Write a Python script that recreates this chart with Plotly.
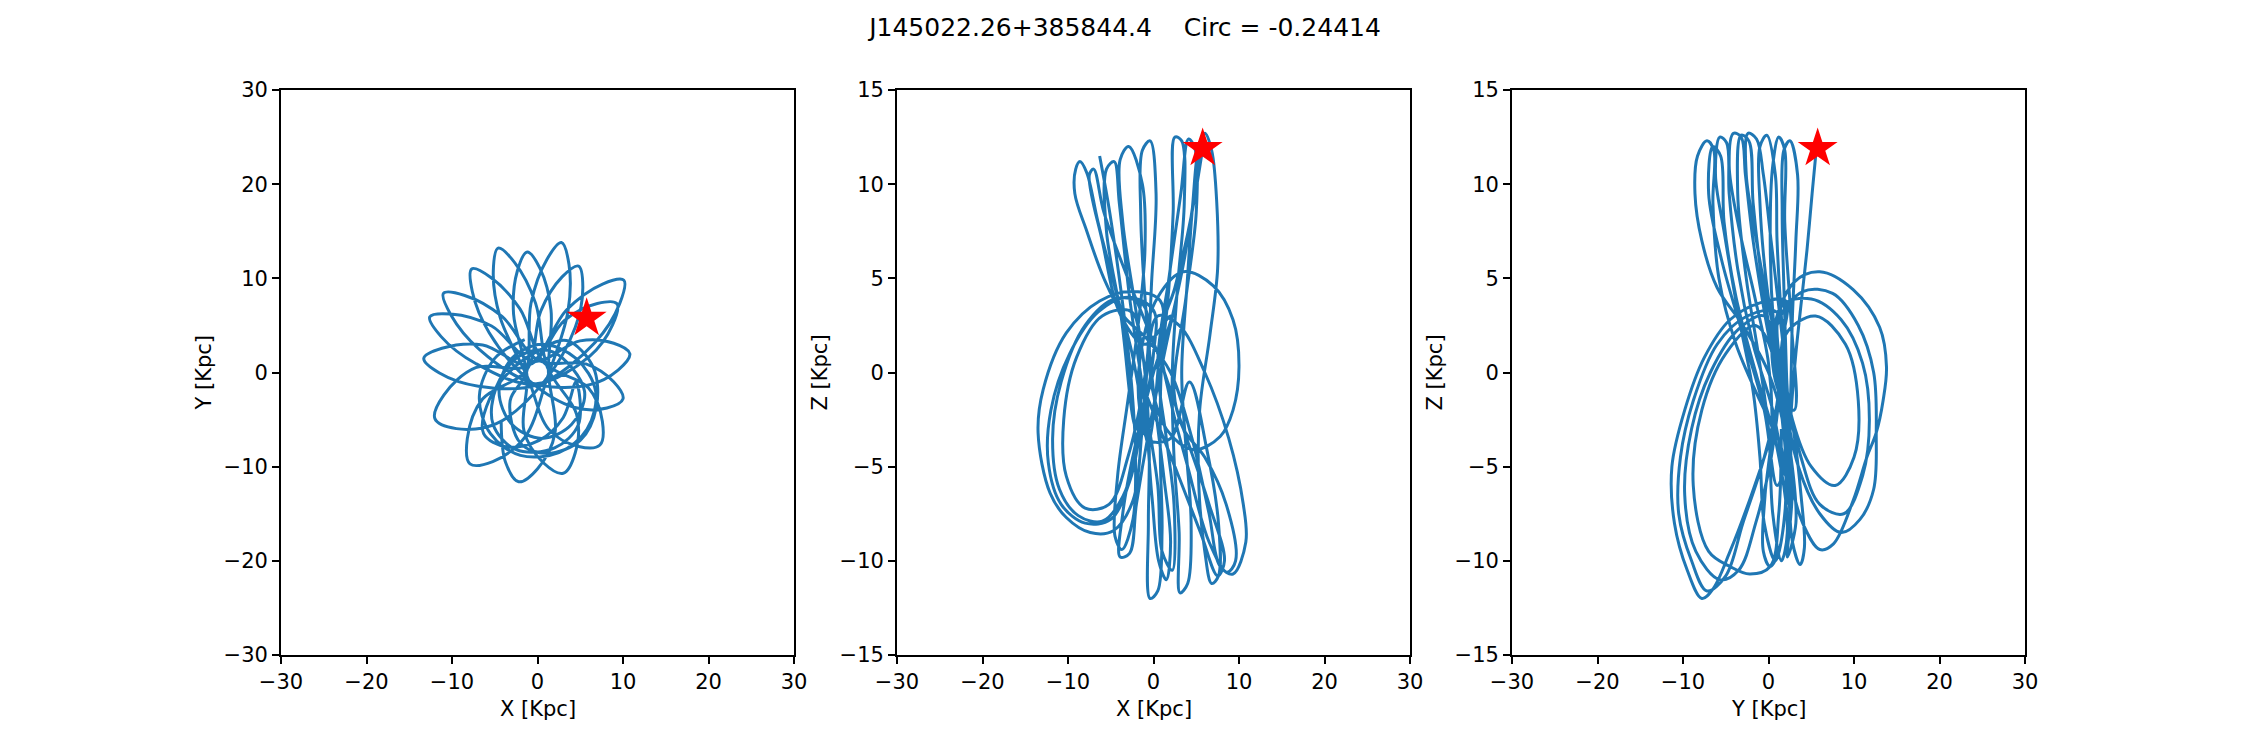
import plotly.graph_objects as go

# ---------------- data (kpc) ----------------
title_text = "J145022.26+385844.4\u00a0\u00a0\u00a0\u00a0Circ = -0.24414"

# X-Y projection of the orbit (rosette petals, traced)
xy_orbit = [
    (-4.25, -5.20), (-3.75, -9.50), (-2.2, -11.6), (0.01, -10.22), (2.05, -6.40), (1.28, 0.00),
    (1.58, 6.63), (0.29, 11.05), (-1.2, 12.8), (-2.35, 10.81), (-2.80, 6.21), (-1.23, -0.34),
    (-1.58, -6.21), (0.72, -9.61), (3.0, -10.7), (4.40, -8.57), (4.58, -4.47), (1.15, 0.56),
    (-0.22, 7.34), (-2.67, 11.67), (-4.6, 13.2), (-5.17, 10.79), (-4.38, 5.88), (-1.11, -0.62),
    (1.33, -6.04), (4.81, -7.85), (7.3, -7.7), (7.59, -5.21), (5.97, -1.64), (0.76, 1.03),
    (-2.05, 6.75), (-5.46, 10.09), (-7.7, 11.0), (-7.62, 8.57), (-5.65, 4.23), (-0.90, -0.91),
    (4.37, -3.71), (8.12, -3.77), (10.0, -2.8), (8.90, -0.99), (5.65, 0.91), (0.12, 1.27),
    (-4.15, 5.95), (-8.51, 8.18), (-11.0, 8.4), (-10.11, 6.08), (-6.81, 2.45), (-0.59, -1.13),
    (5.85, -1.36), (9.46, 0.29), (10.8, 2.0), (8.92, 3.11), (4.97, 3.36), (-0.45, 1.19),
    (-5.37, 4.94), (-10.15, 6.21), (-12.6, 5.9), (-11.27, 3.81), (-7.23, 0.96), (-0.33, -1.23),
    (6.12, 1.75), (8.78, 5.06), (9.3, 7.3), (7.00, 7.32), (3.16, 5.53), (-0.95, 0.85),
    (-6.41, 2.93), (-11.17, 2.57), (-13.3, 1.5), (-11.47, -0.05), (-6.91, -1.45), (0.08, -1.28),
    (6.73, 3.19), (9.61, 7.31), (10.1, 9.8), (7.61, 9.39), (3.39, 6.63), (-1.04, 0.74),
    (-7.23, 0.51), (-10.96, -2.40), (-12.0, -4.9), (-9.50, -5.96), (-4.81, -5.43), (0.68, -1.08),
    (4.42, 4.80), (5.30, 9.11), (4.8, 11.3), (2.88, 10.15), (0.38, 6.52), (-1.25, 0.29),
    (-6.43, -2.82), (-8.21, -7.02), (-7.9, -9.7), (-5.23, -9.46), (-1.47, -6.86), (1.12, -0.62),
    (3.56, 6.47), (3.68, 11.49), (2.8, 13.8), (1.10, 12.01), (-0.76, 7.35), (-1.28, 0.03),
    (-3.2, -3.0), (-2.0, -7.5), (1.1, -8.6), (5.0, -7.2), (6.9, -3.6), (6.5, 0.6), (3.4, 3.4),
    (0.3, 2.4), (-2.8, 0.5), (-5.6, -2.8), (-6.3, -6.5), (-3.6, -7.9), (0.2, -7.2), (3.0, -4.8),
    (4.5, -1.0), (4.8, -5.5), (2.0, -8.0), (-2.5, -8.2), (-5.2, -5.5), (-4.8, -1.5), (-2.0, 1.8),
    (1.8, 2.2), (5.5, -2.0), (4.0, -5.5), (0.5, -7.0), (-3.0, -5.5), (-4.5, -2.0), (-3.0, 1.5),
    (0.5, 3.0), (4.5, 1.5), (6.8, -2.0), (5.8, -6.0), (2.5, -8.5), (-2.0, -8.8), (-5.5, -6.5),
    (-6.8, -2.5), (-5.0, 1.5), (-1.5, 3.5),
]

# X-Z projection of the orbit (traced)
xz_orbit = [
    (-6.3, 11.5), (-5.3, 9.0), (-4.3, 6.0), (-3.3, 2.5), (-2.5, -1.0), (-2.1, -4.5), (-2.4, -7.8),
    (-3.7, -9.4), (-4.5, -8.7), (-4.2, -5.5), (-3.0, -1.5), (-1.8, 2.5), (-1.0, 6.5), (-1.3, 10.0),
    (-2.9, 12.0), (-3.9, 11.3), (-3.6, 8.0), (-2.3, 4.0), (-1.0, 0.0), (-0.5, -4.0), (-0.6, -8.0),
    (-0.4, -12.0), (0.5, -11.6), (1.0, -8.5), (0.8, -4.5), (0.9, 0.0), (1.8, 4.5), (2.3, 8.5),
    (2.5, 12.5), (3.3, 12.3), (3.6, 9.0), (2.8, 4.5), (2.2, 0.0), (2.4, -4.5), (3.0, -8.5),
    (3.1, -11.7), (4.0, -11.2), (4.4, -8.0), (3.8, -4.0), (3.3, 0.0), (3.9, 4.5), (4.6, 9.0),
    (5.3, 12.0), (6.0, 12.7), (6.8, 11.8), (7.4, 9.0), (7.5, 5.5), (6.6, 2.0), (5.4, -2.0),
    (5.3, -6.0), (6.0, -9.5), (6.8, -11.2), (7.6, -10.8), (7.6, -8.0), (6.2, -4.0), (4.2, -0.5),
    (2.0, -3.5), (-0.5, -3.6), (-1.6, -2.0), (-1.5, 1.0), (0.5, 4.0), (3.5, 5.35), (7.0, 4.6),
    (9.3, 2.8), (10.0, 0.3), (9.3, -2.0), (7.8, -3.4), (4.7, -4.1), (1.5, -3.0), (-0.5, 0.5),
    (0.5, 3.0), (3.0, 2.5), (6.0, 0.0), (8.8, -3.5), (10.5, -7.0), (10.8, -9.0), (9.3, -10.7),
    (7.8, -10.3), (6.5, -7.5), (4.5, -3.5), (2.0, 0.0), (-0.8, 1.8),
    (-3.5, 3.0), (-5.8, 5.0), (-7.8, 7.5), (-9.2, 9.5), (-9.1, 10.8), (-8.6, 11.2), (-7.8, 10.6),
    (-6.5, 8.0), (-4.5, 4.5), (-2.5, 1.0), (-1.5, -1.5),
    (-0.6, -3.8), (0.5, 0.0), (0.8, 3.8), (-2.4, 4.3), (-6.3, 3.8), (-10.2, 2.1), (-12.9, -0.9),
    (-13.5, -3.2), (-12.1, -6.4), (-10.2, -7.7), (-7.4, -8.5), (-4.7, -8.4), (-2.4, -6.8),
    (-1.2, -2.5), (0.0, 1.0), (0.0, 3.3), (-3.0, 4.0), (-6.5, 3.2), (-9.8, 1.0), (-12.0, -2.0),
    (-12.3, -4.8), (-10.8, -7.0), (-8.0, -8.0), (-5.0, -7.8), (-2.8, -5.8),
    (-1.8, -3.8), (-0.8, 0.0), (-1.2, 3.6), (-4.5, 3.9), (-8.0, 2.5), (-10.8, -0.5), (-11.8, -3.5),
    (-11.0, -6.2), (-8.8, -7.6), (-6.0, -7.9), (-3.6, -6.6),
    (-1.6, -3.0), (-1.6, -0.5), (-2.5, 3.2), (-6.0, 3.0), (-9.0, 0.8), (-10.5, -2.5), (-10.2, -5.5),
    (-8.0, -7.2), (-5.2, -7.0), (-3.0, -4.5),
    (-0.8, 0.5), (-0.2, 5.0), (0.3, 9.5), (-0.4, 12.3), (-1.3, 11.8), (-1.5, 8.5), (-1.0, 4.0),
    (0.0, -1.0), (1.2, -5.5), (2.0, -9.0), (1.5, -11.0), (0.6, -10.0), (-0.2, -6.5), (-1.2, -2.0),
    (-2.0, -3.0), (-3.8, 3.0), (-5.5, 7.5), (-5.5, 10.8), (-4.6, 11.2), (-4.0, 9.0), (-2.8, 4.0),
    (-1.2, -1.0), (0.5, -6.0), (1.0, -9.5), (2.2, -10.5), (2.4, -7.0), (1.5, -3.5), (0.5, 0.5),
    (1.8, 5.0), (3.2, 9.5), (4.1, 12.4), (4.9, 11.8), (5.0, 8.5), (3.8, 4.0), (2.4, -1.0),
    (3.5, -3.0), (6.0, -4.5), (8.5, -7.0), (9.6, -10.0), (8.6, -10.6), (6.5, -9.0), (4.0, -5.0),
    (2.0, -1.5), (0.8, 2.0),
    (2.5, 4.5), (4.5, 8.5), (5.9, 12.4), (5.3, 11.0), (3.6, 6.0), (1.5, 1.5), (-0.5, -3.0),
    (-2.0, -7.0), (-2.8, -9.6), (-3.9, -9.8), (-3.6, -7.5), (-2.2, -4.0), (0.0, 0.0), (2.0, 3.0),
    (-1.0, 1.5), (-3.8, 3.0), (-6.0, 7.0), (-7.5, 10.5), (-7.0, 10.8), (-5.8, 8.5), (-3.0, 5.0),
    (0.5, 1.0), (3.5, -3.0), (6.5, -7.0), (8.3, -10.0), (7.5, -10.8), (5.5, -8.5), (2.5, -5.0),
    (-1.0, -1.0),
]

# Y-Z projection of the orbit (traced)
yz_orbit = [
    (5.6, 11.9), (5.1, 9.5), (4.5, 6.5), (3.9, 4.0), (3.2, 1.0), (2.6, -2.5), (2.4, -6.0),
    (2.8, -9.0), (3.7, -10.2), (4.2, -9.3), (3.8, -6.5), (2.9, -3.0), (1.5, 0.5), (-0.2, 4.0),
    (-1.6, 7.5), (-2.6, 10.5), (-2.4, 12.7), (-1.4, 12.4), (-0.6, 10.5), (0.3, 7.0), (1.2, 3.5),
    (2.0, 0.0), (2.2, -3.5), (2.0, -7.0), (1.2, -9.5), (0.2, -10.3), (-0.6, -9.5), (-0.4, -6.5),
    (0.4, -3.0), (0.0, 0.5), (-1.6, 4.0), (-3.6, 8.0), (-4.6, 11.0), (-4.1, 12.7), (-3.2, 12.5),
    (-2.7, 10.5), (-1.8, 7.0), (-0.4, 3.0), (1.2, -1.0), (2.0, -4.5), (1.8, -8.0), (0.8, -10.0),
    (-0.5, -8.0), (-1.0, -4.5), (-1.8, -1.0), (-3.5, 3.0), (-5.2, 7.5), (-6.2, 10.5), (-5.7, 12.5),
    (-4.9, 12.2), (-4.6, 9.5), (-3.6, 5.5), (-1.8, 1.5), (0.5, -2.0), (2.0, -5.5),
    (1.8, -3.0), (0.0, 0.0), (-3.0, 2.5), (-6.0, 4.5), (-7.8, 7.0), (-8.6, 9.5), (-8.3, 11.5),
    (-7.2, 12.3), (-6.4, 11.8), (-6.5, 9.0), (-5.8, 5.0), (-3.8, 1.5), (-1.0, -1.5), (1.5, -4.0),
    (2.4, -7.0), (2.6, -4.0), (2.2, -1.0), (1.5, 3.0), (1.0, 7.0), (0.8, 10.5), (-0.2, 12.6),
    (-1.0, 12.0), (-1.0, 9.0), (-0.3, 5.0), (1.0, 1.0), (2.1, -2.0), (2.2, -5.0),
    (2.6, -1.0), (2.8, 3.0), (3.2, 7.0), (3.4, 10.5), (2.5, 12.3), (1.8, 11.8), (1.6, 8.5),
    (1.8, 4.5), (2.1, 0.0), (2.3, -4.0), (1.0, -6.0),
    (-0.5, -2.0), (-3.0, 2.0), (-5.5, 6.0), (-7.0, 9.5), (-6.5, 12.0), (-5.6, 11.5), (-5.2, 8.0),
    (-3.8, 4.0), (-1.5, 0.0), (1.0, -4.0), (2.2, -8.5), (1.5, -10.0), (0.5, -7.5), (0.0, -3.0),
    (-1.2, 1.0), (-2.6, 5.0), (-3.6, 9.5), (-3.2, 12.6), (-2.3, 12.3), (-1.8, 9.0), (-0.8, 5.0),
    (0.8, 0.5), (2.5, -4.0), (3.2, -8.0), (2.2, -9.8), (2.8, -6.0), (1.8, -2.0), (0.6, 2.5),
    (0.2, 7.0), (0.5, 11.0), (1.2, 12.5), (1.9, 11.8), (1.9, 8.0), (2.6, 3.0), (3.0, -2.0),
    (1.2, -1.0),
    (0.5, 2.0), (3.0, 4.8), (6.0, 5.35), (9.9, 4.4), (13.0, 2.4), (13.8, 0.3), (13.4, -1.5),
    (12.6, -3.2), (11.5, -4.5), (9.9, -6.8), (7.6, -9.1), (6.0, -9.4), (4.0, -8.0), (2.5, -5.5),
    (1.5, -2.0), (1.0, 2.5), (4.0, 4.3), (7.5, 4.2), (10.5, 2.5), (12.3, 0.0), (12.6, -3.3),
    (12.3, -6.2), (10.7, -7.8), (8.5, -8.5), (6.0, -7.5), (3.5, -5.0), (2.0, -1.5),
    (1.5, 3.5), (5.0, 3.9), (8.5, 2.8), (11.0, 0.5), (11.8, -2.5), (11.0, -5.5), (8.8, -7.5),
    (6.0, -7.0), (3.8, -4.5), (2.2, -1.0), (2.0, 2.0), (5.5, 3.0), (9.0, 1.5), (10.5, -1.5),
    (10.0, -4.5), (7.8, -6.0), (5.0, -5.0), (2.8, -2.5), (1.5, 1.0),
    (2.0, 3.8), (-1.0, 3.7), (-4.5, 2.8), (-7.5, 0.8), (-9.8, -2.0), (-11.3, -5.0), (-11.0, -8.0),
    (-9.5, -10.5), (-7.8, -12.0), (-6.5, -11.5), (-4.5, -9.5), (-2.0, -6.5), (0.5, -3.0), (2.0, 0.5),
    (1.0, 3.2), (-2.5, 3.0), (-6.0, 1.5), (-8.8, -1.5), (-10.3, -4.5), (-10.5, -7.5), (-9.0, -10.0),
    (-7.2, -11.6), (-5.0, -10.8), (-3.0, -8.0), (-0.5, -4.5), (1.2, -0.5),
    (-0.5, 3.0), (-3.5, 2.3), (-6.8, 0.0), (-9.0, -3.0), (-9.8, -6.5), (-8.5, -9.5), (-5.7, -11.0),
    (-3.5, -10.5), (-1.5, -8.0), (0.5, -4.0), (1.0, 0.0),
    (-1.5, 2.5), (-5.0, 1.0), (-7.8, -2.0), (-8.8, -6.0), (-7.0, -9.5), (-4.5, -10.3), (-2.2, -10.7),
    (0.2, -10.3), (1.2, -7.5), (1.5, -3.0),
]

# current position of the star (kpc)
star_x = [5.75]
star_y = [5.75]
star_z = [11.9]

ticks_xy = [-30, -20, -10, 0, 10, 20, 30]
ticks_z = [-15, -10, -5, 0, 5, 10, 15]
axis_titles = ["X [Kpc]", "Y [Kpc]", "X [Kpc]", "Z [Kpc]", "Y [Kpc]", "Z [Kpc]"]


def lab(v):
    return str(v).replace("-", "\u2212")


# ---------------- figure ----------------
W, H = 2250, 750
LINE = "#1f77b4"
FONT = "DejaVu Sans"

fig = go.Figure()


def add_panel(pairs, sx, sy, xa, ya):
    a = [p[0] for p in pairs]
    b = [p[1] for p in pairs]
    fig.add_trace(go.Scatter(x=a, y=b, mode="lines", xaxis=xa, yaxis=ya,
                             line=dict(color=LINE, width=3, shape="spline", smoothing=1.0),
                             hoverinfo="skip", showlegend=False))
    fig.add_trace(go.Scatter(x=sx, y=sy, mode="markers", xaxis=xa, yaxis=ya,
                             marker=dict(symbol="star", size=30, color="red", line=dict(width=0)),
                             hoverinfo="skip", showlegend=False))


add_panel(xy_orbit, star_x, star_y, "x", "y")
add_panel(xz_orbit, star_x, star_z, "x2", "y2")
add_panel(yz_orbit, star_y, star_z, "x3", "y3")

panels_px = [(281, 794), (897, 1410), (1512, 2025)]
y_top, y_bot = 90, 655
y_dom = [1 - y_bot / H, 1 - y_top / H]

common = dict(showline=True, linecolor="black", linewidth=1.7, mirror=True,
              ticks="outside", ticklen=7, tickwidth=1.7, tickcolor="black",
              showgrid=False, zeroline=False, automargin=False,
              tickfont=dict(family=FONT, size=21, color="black"))

layout = dict(width=W, height=H, margin=dict(l=0, r=0, t=0, b=0, autoexpand=False),
              paper_bgcolor="white", plot_bgcolor="white", showlegend=False,
              title=dict(text=title_text, x=0.5, xanchor="center", y=1 - 27 / H, yanchor="middle",
                         font=dict(family=FONT, size=25, color="black")))

annotations = []
for i, (l, r) in enumerate(panels_px):
    suf = "" if i == 0 else str(i + 1)
    yt = ticks_xy if i == 0 else ticks_z
    yr = [-30, 30] if i == 0 else [-15, 15]
    layout["xaxis" + suf] = dict(domain=[l / W, r / W], range=[-30, 30], anchor="y" + suf,
                                 tickvals=ticks_xy, ticktext=[lab(v) for v in ticks_xy], **common)
    layout["yaxis" + suf] = dict(domain=y_dom, range=yr, anchor="x" + suf,
                                 tickvals=yt, ticktext=[lab(v) for v in yt], **common)
    annotations.append(dict(text=axis_titles[2 * i], xref="paper", yref="paper",
                            x=(l + r) / 2 / W, y=1 - 709 / H, xanchor="center", yanchor="middle",
                            showarrow=False, font=dict(family=FONT, size=21, color="black")))
    annotations.append(dict(text=axis_titles[2 * i + 1], xref="paper", yref="paper",
                            x=(l - 77) / W, y=1 - (y_top + y_bot) / 2 / H, xanchor="center",
                            yanchor="middle", textangle=-90, showarrow=False,
                            font=dict(family=FONT, size=21, color="black")))
layout["annotations"] = annotations

fig.update_layout(**layout)
fig.write_html("out.html")
